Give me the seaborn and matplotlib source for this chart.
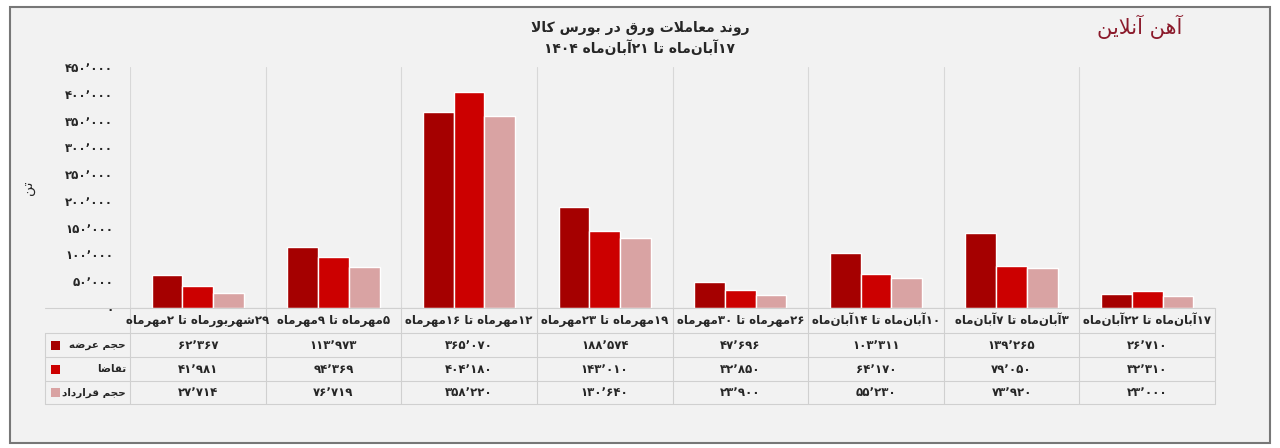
import matplotlib
matplotlib.use("Agg")
import matplotlib.pyplot as plt
import seaborn as sns
import pandas as pd
from matplotlib.patches import FancyBboxPatch, Rectangle

# ---------- minimal Persian shaping ----------
FORMS = {  # iso, fin, ini, med
    'ا': ('\uFE8D', '\uFE8E', None, None), 'آ': ('\uFE81', '\uFE82', None, None),
    'ب': ('\uFE8F', '\uFE90', '\uFE91', '\uFE92'), 'ت': ('\uFE95', '\uFE96', '\uFE97', '\uFE98'),
    'ج': ('\uFE9D', '\uFE9E', '\uFE9F', '\uFEA0'), 'ح': ('\uFEA1', '\uFEA2', '\uFEA3', '\uFEA4'),
    'د': ('\uFEA9', '\uFEAA', None, None), 'ر': ('\uFEAD', '\uFEAE', None, None),
    'ز': ('\uFEAF', '\uFEB0', None, None), 'س': ('\uFEB1', '\uFEB2', '\uFEB3', '\uFEB4'),
    'ش': ('\uFEB5', '\uFEB6', '\uFEB7', '\uFEB8'), 'ض': ('\uFEBD', '\uFEBE', '\uFEBF', '\uFEC0'),
    'ع': ('\uFEC9', '\uFECA', '\uFECB', '\uFECC'), 'ق': ('\uFED5', '\uFED6', '\uFED7', '\uFED8'),
    'ل': ('\uFEDD', '\uFEDE', '\uFEDF', '\uFEE0'), 'م': ('\uFEE1', '\uFEE2', '\uFEE3', '\uFEE4'),
    'ن': ('\uFEE5', '\uFEE6', '\uFEE7', '\uFEE8'), 'ه': ('\uFEE9', '\uFEEA', '\uFEEB', '\uFEEC'),
    'و': ('\uFEED', '\uFEEE', None, None), 'ک': ('\uFB8E', '\uFB8F', '\uFB90', '\uFB91'),
    'ی': ('\uFBFC', '\uFBFD', '\uFBFE', '\uFBFF'),
}
DIG = set('۰۱۲۳۴۵۶۷۸۹0123456789٬,')

def shape(s):
    chars = list(s)
    merged = []
    i = 0
    while i < len(chars):
        if chars[i] == 'ل' and i + 1 < len(chars) and chars[i + 1] in 'اآ':
            merged.append('LA')
            i += 2
        else:
            merged.append(chars[i]); i += 1
    def joins_left(c):
        return c in FORMS and FORMS[c][2] is not None
    out = []
    for k, c in enumerate(merged):
        prev = merged[k - 1] if k > 0 else None
        nxt = merged[k + 1] if k + 1 < len(merged) else None
        pj = prev is not None and joins_left(prev)
        if c == 'LA':
            out.append('\uFEFC' if pj else '\uFEFB'); continue
        if c not in FORMS:
            out.append(c); continue
        f = FORMS[c]
        nj = nxt is not None and (nxt in FORMS or nxt == 'LA') and f[2] is not None
        if pj and nj: out.append(f[3])
        elif pj: out.append(f[1])
        elif nj: out.append(f[2])
        else: out.append(f[0])
    out = [c for c in out if c != '\u200c']
    runs, cur = [], ''
    for c in out:
        if c in DIG:
            cur += c
        else:
            if cur: runs.append(cur); cur = ''
            runs.append(c)
    if cur: runs.append(cur)
    return ''.join(reversed(runs))

P = str.maketrans('0123456789', '۰۱۲۳۴۵۶۷۸۹')
def fa(n):
    return f"{n:,}".replace(',', '٬').translate(P)

# ---------- data ----------
categories = ['۲۹شهریورماه تا ۲مهرماه', '۵مهرماه تا ۹مهرماه', '۱۲مهرماه تا ۱۶مهرماه',
              '۱۹مهرماه تا ۲۳مهرماه', '۲۶مهرماه تا ۳۰مهرماه', '۱۰آبان\u200cماه تا ۱۴آبان\u200cماه',
              '۳آبان\u200cماه تا ۷آبان\u200cماه', '۱۷آبان\u200cماه تا ۲۲آبان\u200cماه']
series_names = ['حجم عرضه', 'تقاضا', 'حجم قرارداد']
supply = [62367, 113973, 365070, 188574, 47696, 103311, 139265, 26710]
demand = [41981, 94369, 404180, 143010, 32850, 64170, 79050, 32310]
contract = [27714, 76719, 358220, 130640, 23900, 55230, 73920, 23000]
yticks = [0, 50000, 100000, 150000, 200000, 250000, 300000, 350000, 400000, 450000]
colors = ['#A50000', '#CC0000', '#D9A3A3']

rows = []
for name, vals in zip(series_names, [supply, demand, contract]):
    for c, v in zip(categories, vals):
        rows.append({'cat': c, 'series': name, 'val': v})
df = pd.DataFrame(rows)

sns.set_theme(style='white')
plt.rcParams['font.family'] = ['DejaVu Sans']
BG = '#F2F2F2'
fig = plt.figure(figsize=(12.8, 4.48), dpi=100, facecolor='white')
fig.patches.append(FancyBboxPatch((0.008, 0.012), 0.984, 0.972, boxstyle='square,pad=0', zorder=-5,
                                  transform=fig.transFigure, facecolor=BG, edgecolor='#777777', lw=1.5))
ax = fig.add_axes([130 / 1280, 1 - 308 / 448, (1215 - 130) / 1280, (308 - 67) / 448])
ax.set_facecolor('none')
sns.barplot(data=df, x='cat', y='val', hue='series', palette=colors, ax=ax,
            width=0.68, gap=0, legend=False, saturation=1)
ax.set_ylim(0, 450000)
ax.set_xlim(-0.5, 7.5)
ax.set_yticks(yticks)
ax.set_yticklabels([fa(t) if t else '۰' for t in yticks], fontsize=8.5, fontweight='bold')
ax.set_xticks([])
ax.set_xlabel('')
ax.set_ylabel(shape('تن'), fontsize=10, labelpad=22)
for s in ax.spines.values():
    s.set_visible(False)
ax.tick_params(axis='y', length=0, pad=12)
for i in range(8):
    ax.axvline(i - 0.5, color='#D8D8D8', lw=0.8, zorder=0)
ax.axhline(0, color='#CCCCCC', lw=0.8, zorder=0)

def fy(p):
    return 1 - p / 448
tx0, tx1 = 130 / 1280, 1215 / 1280
cw = (tx1 - tx0) / 8
lines_y = [308, 333, 357, 381, 404]
for y in lines_y:
    fig.add_artist(plt.Line2D([45 / 1280, tx1], [fy(y), fy(y)], color='#D0D0D0', lw=0.8))
for i in range(9):
    fig.add_artist(plt.Line2D([tx0 + i * cw] * 2, [fy(308), fy(404)], color='#D0D0D0', lw=0.8))
fig.add_artist(plt.Line2D([45 / 1280] * 2, [fy(333), fy(404)], color='#D0D0D0', lw=0.8))
for i, c in enumerate(categories):
    fig.text(tx0 + (i + 0.5) * cw, fy(320), shape(c), ha='center', va='center', fontsize=8.5, fontweight='bold')
for r, (name, vals, col) in enumerate(zip(series_names, [supply, demand, contract], colors)):
    yc = fy((lines_y[r + 1] + lines_y[r + 2]) / 2)
    fig.text(126 / 1280, yc, shape(name), ha='right', va='center', fontsize=7.5, fontweight='bold')
    fig.patches.append(Rectangle((51 / 1280, yc - 4.5 / 448), 9 / 1280, 9 / 448, transform=fig.transFigure,
                                 facecolor=col, edgecolor='none', zorder=5))
    for i, v in enumerate(vals):
        fig.text(tx0 + (i + 0.5) * cw, yc, fa(v), ha='center', va='center', fontsize=8.5, fontweight='bold')

fig.text(0.5, fy(28), shape('روند معاملات ورق در بورس کالا'), ha='center', va='center', fontsize=10, fontweight='bold')
fig.text(0.5, fy(48), shape('۱۷آبان\u200cماه تا ۲۱آبان\u200cماه ۱۴۰۴'), ha='center', va='center',
         fontsize=10, fontweight='bold')
fig.text(1140 / 1280, fy(27), shape('آهن آنلاین'), ha='center', va='center', fontsize=15, color='#8B1A2B')

fig.savefig('out.png', dpi=100, facecolor='white')
